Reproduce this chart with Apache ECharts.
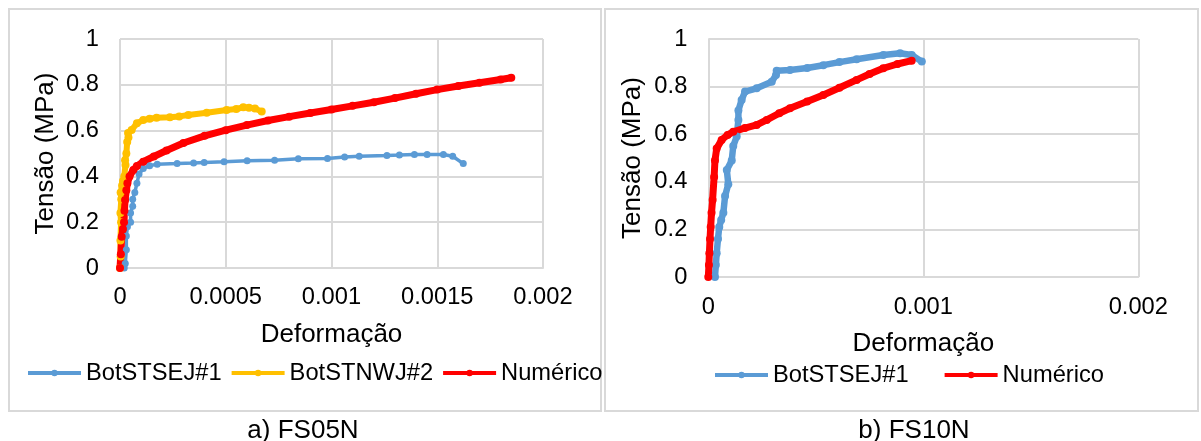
<!DOCTYPE html>
<html><head><meta charset="utf-8">
<script src="https://cdn.jsdelivr.net/npm/echarts@6/dist/echarts.min.js"></script>
<style>html,body{margin:0;padding:0;background:#fff}#c{width:1201px;height:441px}</style>
</head><body><div id="c"></div>
<script>
// ---- data (strain, stress MPa) ----
const seriesNamesA = ['BotSTSEJ#1', 'BotSTNWJ#2', 'Numérico'];
const seriesNamesB = ['BotSTSEJ#1', 'Numérico'];
const captionA = 'a) FS05N';
const captionB = 'b) FS10N';
const xTitle = 'Deformação';
const yTitle = 'Tensão (MPa)';
const xTickLabelsA = ['0', '0.0005', '0.001', '0.0015', '0.002'];
const xTickLabelsB = ['0', '0.001', '0.002'];
const yTickLabels = ['0', '0.2', '0.4', '0.6', '0.8', '1'];

const fs05Blue = [[0.00002,0],[0.000025,0.02],[0.00003,0.08],[0.00003,0.14],[0.000035,0.18],[0.00005,0.2],[0.00005,0.24],[0.00006,0.27],[0.00006,0.3],[0.00007,0.33],[0.00008,0.37],[0.00009,0.41],[0.00011,0.435],[0.00014,0.447],[0.000176,0.453],[0.00027,0.456],[0.000348,0.459],[0.000398,0.461],[0.000492,0.464],[0.000601,0.468],[0.000731,0.471],[0.000843,0.477],[0.000981,0.478],[0.001062,0.485],[0.001131,0.488],[0.001262,0.491],[0.001321,0.493],[0.001392,0.496],[0.001452,0.496],[0.001529,0.496],[0.001573,0.488],[0.001623,0.456]];
const fs05Yellow = [[0,0],[0.000003,0.05],[0.000002,0.12],[0.000005,0.2],[0.000002,0.24],[0.000006,0.3],[0.000003,0.33],[0.00001,0.36],[0.000014,0.38],[0.000018,0.35],[0.00002,0.4],[0.000026,0.45],[0.000024,0.47],[0.00003,0.5],[0.000034,0.55],[0.00004,0.57],[0.000038,0.59],[0.000055,0.603],[0.00008,0.632],[0.00011,0.646],[0.00014,0.652],[0.000173,0.656],[0.000236,0.658],[0.00028,0.662],[0.000323,0.668],[0.00041,0.678],[0.000504,0.69],[0.00055,0.694],[0.000583,0.702],[0.00061,0.7],[0.000638,0.697],[0.00067,0.683]];
const fs05Red = [[0,0],[0.000004,0.06],[0.000008,0.137],[0.000014,0.17],[0.000019,0.2],[0.000021,0.25],[0.000024,0.297],[0.00003,0.34],[0.000035,0.37],[0.000045,0.4],[0.000063,0.428],[0.00008,0.445],[0.00011,0.464],[0.00016,0.487],[0.00022,0.513],[0.0003,0.546],[0.0004,0.577],[0.0005,0.602],[0.0006,0.624],[0.0007,0.644],[0.0008,0.661],[0.0009,0.677],[0.001,0.692],[0.0011,0.708],[0.0012,0.724],[0.0013,0.742],[0.0014,0.761],[0.0015,0.779],[0.0016,0.795],[0.0017,0.809],[0.0018,0.823],[0.00185,0.831]];
const fs10Blue = [[0.000031,0],[0.000035,0.05],[0.000039,0.1],[0.000045,0.16],[0.000051,0.21],[0.00006,0.24],[0.00007,0.27],[0.000078,0.34],[0.000093,0.39],[0.000086,0.45],[0.000109,0.49],[0.000116,0.55],[0.000132,0.59],[0.00014,0.66],[0.00014,0.7],[0.000155,0.744],[0.000171,0.779],[0.000225,0.793],[0.000295,0.82],[0.000315,0.849],[0.000318,0.867],[0.00038,0.87],[0.00046,0.878],[0.000535,0.89],[0.00061,0.903],[0.00069,0.915],[0.000814,0.933],[0.000892,0.94],[0.000946,0.933],[0.000993,0.905]];
const fs10Red = [[0,0],[0.000003,0.05],[0.000005,0.1],[0.000008,0.16],[0.000011,0.21],[0.000015,0.27],[0.00002,0.324],[0.000027,0.42],[0.000031,0.49],[0.000039,0.54],[0.000062,0.576],[0.00009,0.597],[0.000116,0.61],[0.00017,0.626],[0.000225,0.639],[0.000272,0.66],[0.00033,0.688],[0.00038,0.709],[0.00046,0.737],[0.000535,0.765],[0.00061,0.795],[0.00069,0.828],[0.00075,0.853],[0.000814,0.877],[0.00088,0.895],[0.000946,0.909]];

const BLUE = '#5B9BD5', YELLOW = '#FFC000', RED = '#FF0000';
const FONT = 'Liberation Sans, Arial, sans-serif';
const GRID = '#d9d9d9';

function xAxis(gridIndex, max, interval, labels, margin, nameGap) {
  return {
    type: 'value', gridIndex, min: 0, max, interval,
    name: xTitle, nameLocation: 'middle', nameGap,
    nameTextStyle: {fontSize: 26, color: '#000', fontFamily: FONT},
    axisLine: {show: true, lineStyle: {color: GRID, width: 2}},
    axisTick: {show: false},
    splitLine: {show: true, lineStyle: {color: GRID, width: 2}},
    axisLabel: {margin, fontSize: 23.7, color: '#000', fontFamily: FONT,
      formatter: (v, i) => labels[i]}
  };
}
function yAxis(gridIndex, nameGap) {
  return {
    type: 'value', gridIndex, min: 0, max: 1, interval: 0.2,
    name: yTitle, nameLocation: 'middle', nameGap,
    nameTextStyle: {fontSize: 26, color: '#000', fontFamily: FONT},
    axisLine: {show: false}, axisTick: {show: false},
    splitLine: {show: true, lineStyle: {color: GRID, width: 2}},
    axisLabel: {margin: 21, fontSize: 23.7, color: '#000', fontFamily: FONT,
      formatter: (v, i) => yTickLabels[i]}
  };
}
function line(name, data, color, xi, width, sym) {
  return {
    name, type: 'line', data, xAxisIndex: xi, yAxisIndex: xi,
    symbol: 'circle', symbolSize: sym, showSymbol: true,
    itemStyle: {color}, lineStyle: {color, width},
    animation: false
  };
}
const legendCommon = {
  orient: 'horizontal', itemWidth: 53, itemHeight: 8, padding: 0,
  textStyle: {fontSize: 23.7, color: '#000', fontFamily: FONT},
  lineStyle: {width: 4}
};

const chart = echarts.init(document.getElementById('c'), null, {renderer: 'canvas'});
chart.setOption({
  animation: false,
  backgroundColor: '#fff',
  grid: [
    {left: 120, top: 39, width: 423, height: 229},
    {left: 708.3, top: 39, width: 430, height: 238}
  ],
  xAxis: [xAxis(0, 0.002, 0.0005, xTickLabelsA, 17.5, 54), xAxis(1, 0.002, 0.001, xTickLabelsB, 18.5, 54)],
  yAxis: [yAxis(0, 61), yAxis(1, 62)],
  legend: [
    Object.assign({}, legendCommon, {left: 26, top: 361, itemGap: 8, data: seriesNamesA}),
    Object.assign({}, legendCommon, {left: 713, top: 363, itemGap: 34, data: seriesNamesB})
  ],
  series: [
    line(seriesNamesA[0], fs05Blue, BLUE, 0, 3.5, 7),
    line(seriesNamesA[1], fs05Yellow, YELLOW, 0, 6, 8),
    line(seriesNamesA[2], fs05Red, RED, 0, 7, 8),
    line(seriesNamesB[0], fs10Blue, BLUE, 1, 6.5, 8),
    line(seriesNamesB[1], fs10Red, RED, 1, 7, 8)
  ],
  graphic: [
    {type: 'rect', shape: {x: 9, y: 9, width: 592, height: 402}, style: {fill: 'none', stroke: GRID, lineWidth: 2}, silent: true, z: -1},
    {type: 'rect', shape: {x: 605, y: 9, width: 593, height: 402}, style: {fill: 'none', stroke: GRID, lineWidth: 2}, silent: true, z: -1},
    {type: 'text', x: 303, y: 431, style: {text: captionA, fontSize: 26, fill: '#000', fontFamily: FONT, textAlign: 'center', textVerticalAlign: 'middle'}},
    {type: 'text', x: 914, y: 431, style: {text: captionB, fontSize: 26, fill: '#000', fontFamily: FONT, textAlign: 'center', textVerticalAlign: 'middle'}}
  ]
});
</script></body></html>
